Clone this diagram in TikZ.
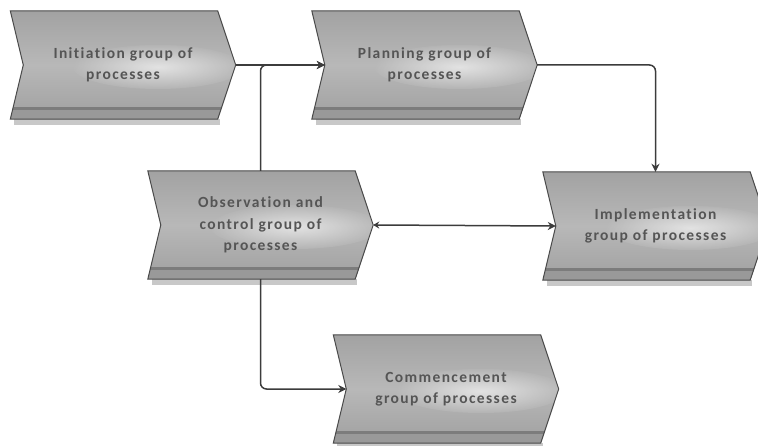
\documentclass[tikz,border=0pt]{standalone}
\usepackage{fontspec}
\setmainfont{Carlito}[Ligatures=NoCommon]
\usetikzlibrary{arrows.meta,backgrounds,calc}
\definecolor{boxtop}{HTML}{A2A2A2}
\definecolor{boxmid}{HTML}{B8B8B8}
\definecolor{boxbot}{HTML}{A0A0A0}
\definecolor{boxband}{HTML}{7C7C7C}
\definecolor{boxstrip}{HTML}{999999}
\definecolor{boxshadow}{HTML}{C8C8C8}
\definecolor{boxborder}{HTML}{4A4A4A}
\definecolor{linec}{HTML}{3C3C3C}
\definecolor{txtc}{HTML}{555555}
\newcommand\chevpath[1]{(#1.north west) -- ($(#1.north east)+(-18,0)$) -- (#1.east) -- ($(#1.south east)+(-18,0)$) -- (#1.south west) -- ($(#1.west)+(13,0)$) -- cycle}
\tikzset{
  chev/.style={rectangle, minimum width=225pt, minimum height=108pt, inner sep=0pt,
    align=center, text=txtc, font=\fontsize{15.5}{21.5}\selectfont\bfseries\addfontfeatures{LetterSpace=9,Ligatures=NoCommon}},
  conn/.style={draw=linec, line width=1.5pt, rounded corners=6pt,
    -{Stealth[length=8pt,width=8pt]}},
}
\begin{document}
\begin{tikzpicture}[x=1pt,y=-1pt]
\useasboundingbox (0,0) rectangle (758,446);
\clip (0,0) rectangle (758,446);
\node[chev] (init) at (123,65) {Initiation group of\\processes};
\node[chev] (plan) at (424.5,65) {Planning group of\\processes};
\node[chev] (obs) at (260.5,225) {Observation and\\control group of\\processes};
\node[chev] (impl) at (655.5,226) {Implementation\\group of processes};
\node[chev] (comm) at (446,389) {Commencement\\group of processes};
\begin{scope}[on background layer]
\foreach \n in {init,plan,obs,impl,comm}{
  \fill[boxshadow] ($(\n.south west)+(4,0)$) rectangle ($(\n.south east)+(-16,6)$);
  \begin{scope}
    \clip \chevpath{\n};
    \shade[top color=boxtop, bottom color=boxbot, middle color=boxmid] \chevpath{\n};
    \shade[inner color=white, outer color=boxmid, opacity=0.6]
      ($(\n.center)+(35,2)$) ellipse (85 and 22);
    \fill[boxstrip] ($(\n.south west)+(0,-9)$) rectangle ($(\n.south east)+(0,0)$);
    \fill[boxband] ($(\n.south west)+(0,-12)$) rectangle ($(\n.south east)+(0,-9)$);
  \end{scope}
  \draw[boxborder, line width=1pt] \chevpath{\n};
}
\end{scope}
\coordinate (planin) at ($(plan.west)+(13,0)$);
\coordinate (implin) at ($(impl.west)+(13,0)$);
\coordinate (commin) at ($(comm.west)+(13,0)$);
\draw[conn] (init.east) -- (planin);
\draw[conn] (obs.north) |- (planin);
\draw[conn] (plan.east) -| (impl.north);
\draw[conn, {Stealth[length=6pt,width=7pt]}-{Stealth[length=8pt,width=8pt]}] (obs.east) -- (implin);
\draw[conn] (obs.south) |- (commin);
\end{tikzpicture}
\end{document}
